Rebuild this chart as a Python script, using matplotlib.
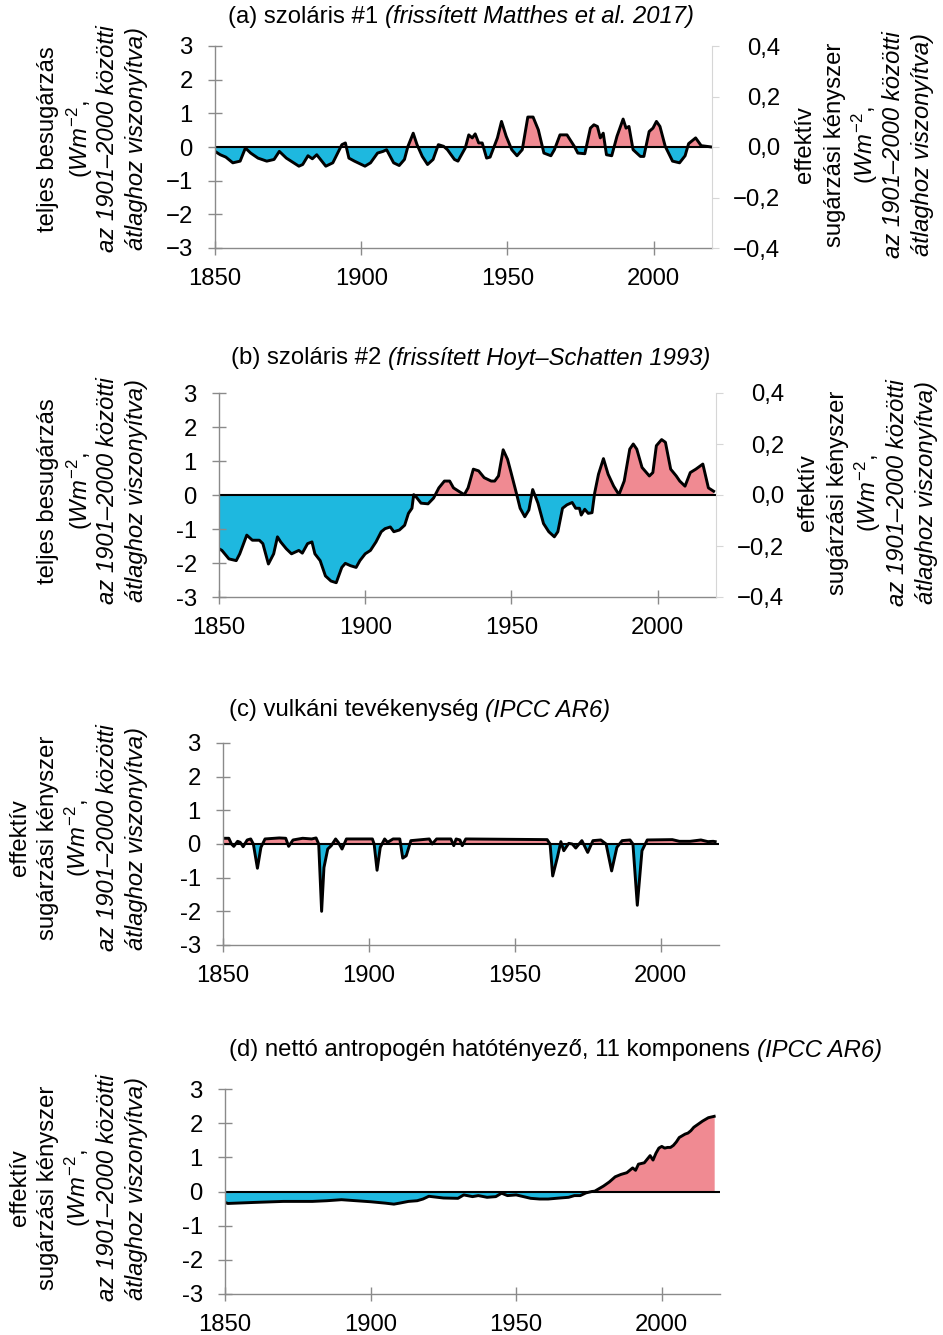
import numpy as np
import matplotlib
matplotlib.use("Agg")
from matplotlib import pyplot as plt

plt.rcParams['font.family'] = ['Liberation Sans', 'DejaVu Sans']
plt.rcParams['mathtext.fontset'] = 'custom'
plt.rcParams['mathtext.rm'] = 'Liberation Sans'
plt.rcParams['mathtext.it'] = 'Liberation Sans:italic'

# (a) solar #1 (updated Matthes et al. 2017), W m-2
sol1_years = [1850.0, 1851.8, 1853.7, 1856.1, 1858.6, 1860.4, 1862.2, 1864.7, 1867.7, 1870.2,
              1872.0, 1874.4, 1878.7, 1880.0, 1881.8, 1883.3, 1884.8, 1887.9, 1890.3, 1893.4,
              1894.6, 1895.8, 1897.7, 1901.3, 1903.2, 1905.6, 1907.5, 1908.7, 1911.1, 1913.0,
              1914.8, 1916.0, 1917.8, 1919.1, 1920.9, 1922.7, 1924.6, 1926.4, 1928.2, 1929.5,
              1931.9, 1933.1, 1935.6, 1936.8, 1938.0, 1939.0, 1940.2, 1941.4, 1942.9, 1944.1,
              1946.6, 1948.0, 1949.6, 1951.5, 1953.3, 1955.1, 1957.0, 1958.8, 1960.6, 1962.5,
              1964.9, 1966.1, 1968.0, 1970.4, 1972.9, 1974.1, 1976.5, 1978.4, 1979.6, 1980.8,
              1981.8, 1982.8, 1983.9, 1985.7, 1987.5, 1989.6, 1990.6, 1991.6, 1993.0, 1995.5,
              1996.7, 1998.5, 1999.8, 2001.0, 2002.2, 2004.0, 2006.5, 2008.9, 2010.8, 2012.0,
              2014.4, 2016.3, 2018.1, 2019.9]
sol1_values = [-0.13, -0.23, -0.30, -0.47, -0.42, -0.03, -0.18, -0.33, -0.42, -0.37,
               -0.13, -0.33, -0.57, -0.52, -0.26, -0.35, -0.23, -0.57, -0.47, 0.07,
               0.12, -0.33, -0.42, -0.57, -0.47, -0.18, -0.13, -0.08, -0.47, -0.55,
               -0.37, 0.02, 0.41, 0.07, -0.28, -0.52, -0.37, 0.07, 0.02, -0.08,
               -0.37, -0.42, -0.03, 0.36, 0.27, 0.39, 0.12, 0.12, -0.33, -0.30,
               0.27, 0.76, 0.32, -0.08, -0.26, -0.08, 0.89, 0.89, 0.51, -0.18,
               -0.26, -0.08, 0.36, 0.36, 0.02, -0.18, -0.20, 0.56, 0.66, 0.61,
               0.27, 0.41, -0.23, -0.26, 0.32, 0.83, 0.56, 0.61, -0.08, -0.28,
               -0.28, 0.46, 0.56, 0.76, 0.61, 0.02, -0.42, -0.47, -0.26, 0.10,
               0.27, 0.04, 0.02, 0.0]

# (b) solar #2 (updated Hoyt-Schatten 1993), W m-2
sol2_years = [1850.0, 1851.0, 1853.4, 1855.9, 1857.1, 1859.5, 1861.4, 1863.8, 1865.0, 1866.9,
              1868.7, 1870.0, 1871.1, 1873.0, 1874.8, 1877.3, 1878.5, 1880.3, 1881.8, 1882.8,
              1884.6, 1886.4, 1888.3, 1890.1, 1892.0, 1893.2, 1895.0, 1896.9, 1898.2, 1900.0,
              1901.8, 1903.7, 1905.5, 1906.8, 1908.6, 1909.8, 1911.7, 1913.5, 1914.8, 1916.0,
              1916.6, 1917.2, 1919.1, 1921.5, 1923.4, 1925.2, 1927.1, 1928.9, 1930.2, 1932.0,
              1933.9, 1935.2, 1937.0, 1938.8, 1940.7, 1943.1, 1944.3, 1945.6, 1947.2, 1948.7,
              1949.9, 1951.7, 1953.0, 1954.6, 1956.0, 1957.3, 1959.1, 1961.0, 1962.8, 1964.7,
              1965.9, 1967.5, 1969.0, 1970.8, 1972.0, 1973.3, 1973.9, 1975.1, 1976.3, 1977.6,
              1978.5, 1979.8, 1981.5, 1983.1, 1985.0, 1986.8, 1988.6, 1990.5, 1991.7, 1992.9,
              1994.7, 1997.2, 1998.4, 1999.6, 2001.4, 2002.7, 2004.5, 2006.4, 2007.6, 2009.4,
              2011.2, 2013.1, 2015.5, 2017.4, 2019.2]
sol2_values = [-1.58, -1.63, -1.88, -1.93, -1.73, -1.18, -1.33, -1.33, -1.43, -2.03,
               -1.73, -1.23, -1.38, -1.58, -1.73, -1.63, -1.71, -1.43, -1.38, -1.73,
               -1.93, -2.38, -2.53, -2.58, -2.13, -2.01, -2.08, -2.13, -1.93, -1.73,
               -1.63, -1.38, -1.08, -0.99, -0.94, -1.08, -1.03, -0.89, -0.54, -0.39,
               0.01, -0.03, -0.24, -0.26, -0.09, 0.21, 0.41, 0.41, 0.21, 0.11,
               0.01, 0.21, 0.76, 0.71, 0.51, 0.41, 0.41, 0.56, 1.33, 1.05,
               0.66, 0.06, -0.39, -0.64, -0.44, 0.16, -0.24, -0.84, -1.08, -1.23,
               -1.08, -0.39, -0.29, -0.22, -0.39, -0.39, -0.59, -0.42, -0.54, -0.52,
               0.06, 0.61, 1.07, 0.61, 0.26, 0.01, 0.41, 1.35, 1.50, 1.35,
               0.81, 0.56, 0.66, 1.45, 1.63, 1.55, 0.76, 0.56, 0.41, 0.26,
               0.66, 0.76, 0.91, 0.21, 0.11]

# (c) volcanic (IPCC AR6), W m-2
volc_years = [1850.0, 1852.0, 1852.9, 1853.7, 1855.0, 1855.9, 1856.9, 1858.3, 1859.5, 1860.4,
              1861.8, 1863.0, 1864.4, 1869.3, 1871.5, 1872.5, 1874.0, 1877.3, 1880.4, 1881.9,
              1882.8, 1883.8, 1884.6, 1885.9, 1887.1, 1888.6, 1889.5, 1890.8, 1892.3, 1901.2,
              1901.8, 1902.8, 1903.9, 1905.4, 1906.4, 1908.3, 1910.6, 1911.6, 1912.8, 1914.4,
              1920.7, 1921.7, 1923.2, 1928.1, 1929.1, 1929.9, 1931.2, 1932.0, 1933.2, 1961.1,
              1962.1, 1963.0, 1964.6, 1965.8, 1966.8, 1968.5, 1969.7, 1970.9, 1973.0, 1975.0,
              1976.8, 1979.5, 1981.3, 1983.2, 1985.0, 1986.8, 1989.5, 1990.5, 1992.0, 1993.6,
              1995.4, 2004.0, 2006.4, 2010.1, 2013.8, 2016.2, 2018.0, 2018.7]
volc_values = [0.17, 0.17, 0.0, -0.07, 0.08, 0.05, -0.08, 0.12, 0.15, 0.0,
               -0.72, -0.10, 0.15, 0.18, 0.17, -0.07, 0.12, 0.17, 0.15, 0.18,
               0.0, -2.0, -0.70, -0.15, -0.05, 0.15, 0.05, -0.15, 0.15, 0.15,
               0.0, -0.78, -0.10, 0.15, 0.05, 0.15, 0.15, -0.42, -0.35, 0.10,
               0.15, 0.0, 0.15, 0.15, -0.05, 0.15, 0.12, -0.05, 0.15, 0.13,
               0.0, -0.95, -0.40, 0.07, -0.20, 0.02, 0.0, -0.12, 0.10, -0.25,
               0.10, 0.12, 0.0, -0.80, -0.10, 0.10, 0.12, 0.0, -1.82, -0.20,
               0.12, 0.13, 0.08, 0.08, 0.12, 0.07, 0.08, 0.07]

# (d) net anthropogenic, 11 components (IPCC AR6), W m-2
anth_years = [1850, 1851, 1860, 1870, 1880, 1885, 1890, 1895, 1900, 1905,
              1908, 1910, 1913, 1916, 1918, 1920, 1925, 1930, 1932, 1935,
              1937, 1940, 1943, 1945, 1947, 1950, 1952, 1955, 1958, 1961,
              1965, 1968, 1970, 1972, 1974, 1976, 1977, 1978, 1980, 1982,
              1984, 1986, 1988, 1990, 1991, 1992, 1994, 1996, 1997, 1998,
              1999, 2000, 2001, 2002, 2003, 2004, 2005, 2006, 2008, 2009,
              2010, 2011, 2012, 2014, 2016, 2018]
anth_values = [-0.32, -0.35, -0.32, -0.29, -0.29, -0.27, -0.24, -0.27, -0.30, -0.34,
               -0.37, -0.34, -0.29, -0.27, -0.22, -0.14, -0.19, -0.20, -0.10, -0.15,
               -0.12, -0.17, -0.15, -0.05, -0.12, -0.10, -0.14, -0.20, -0.22, -0.22,
               -0.19, -0.17, -0.12, -0.12, -0.04, 0.0, 0.01, 0.06, 0.16, 0.28,
               0.43, 0.50, 0.55, 0.69, 0.62, 0.80, 0.84, 1.05, 0.92, 1.12,
               1.27, 1.32, 1.27, 1.29, 1.29, 1.35, 1.45, 1.58, 1.68, 1.71,
               1.78, 1.88, 1.94, 2.06, 2.16, 2.20]

x_ticks = [1850, 1900, 1950, 2000]
y_ticks = [-3, -2, -1, 0, 1, 2, 3]
y_labels_minus = ['\u22123', '\u22122', '\u22121', '0', '1', '2', '3']
y_labels_hyphen = ['-3', '-2', '-1', '0', '1', '2', '3']
right_ticks = [-0.4, -0.2, 0.0, 0.2, 0.4]
right_labels = ['\u22120,4', '\u22120,2', '0,0', '0,2', '0,4']

BLUE = '#1eb8df'
PINK = '#f08a92'
GRAY = '#8a8a8a'
LIGHT = '#d6d6d6'
FS = 17.2

W, H = 943, 1335
fig = plt.figure(figsize=(W / 100, H / 100), dpi=100)


def make_axes(left, right, top, bottom):
    ax = fig.add_axes([left / W, 1 - bottom / H, (right - left) / W, (bottom - top) / H])
    return ax


def draw_panel(ax, years, values, ylabels):
    years = np.array(years, dtype=float)
    values = np.array(values, dtype=float)
    ax.fill_between(years, values, 0, where=values >= 0, interpolate=True, color=PINK, lw=0)
    ax.fill_between(years, values, 0, where=values <= 0, interpolate=True, color=BLUE, lw=0)
    ax.plot(years, values, color='black', lw=2.1, solid_joinstyle='round')
    ax.axhline(0, color='black', lw=1.5)
    ax.set_xlim(1850, 2020)
    ax.set_ylim(-3, 3)
    ax.set_xticks(x_ticks)
    ax.set_yticks(y_ticks)
    ax.set_yticklabels(ylabels)
    for side in ['top', 'right']:
        ax.spines[side].set_visible(False)
    for side in ['left', 'bottom']:
        ax.spines[side].set_color(GRAY)
        ax.spines[side].set_linewidth(1.0)
    ax.tick_params(direction='inout', length=10, width=1, color=GRAY, labelsize=FS)
    ax.tick_params(axis='y', pad=11)
    ax.tick_params(axis='x', pad=9.5)


def add_right_axis(ax):
    tw = ax.twinx()
    tw.set_ylim(-0.4, 0.4)
    tw.set_yticks(right_ticks)
    tw.set_yticklabels(right_labels)
    for side in ['top', 'left', 'bottom']:
        tw.spines[side].set_visible(False)
    tw.spines['right'].set_color(LIGHT)
    tw.tick_params(axis='y', direction='out', length=5, color=LIGHT, labelsize=FS, pad=44)
    for lab in tw.get_yticklabels():
        lab.set_horizontalalignment('right')


def stacked_label(xs, yc, lines):
    for x, (txt, style) in zip(xs, lines):
        fig.text(x / W, 1 - yc / H, txt, rotation=90, ha='center', va='center',
                 fontsize=FS, style=style)


def panel_title(ax, x, y, plain, ital):
    t = fig.text(x / W, 1 - y / H, plain, ha='left', va='center', fontsize=FS)
    ax.annotate(ital, xy=(1, 0.5), xycoords=t, xytext=(0.278 * FS, 0),
                textcoords='offset points', ha='left', va='center',
                fontsize=FS, style='italic')


wm = r'$\mathit{(Wm}^{-2}\mathit{,}$'
left_solar = [('teljes besugárzás', 'normal'), (wm, 'normal'),
              ('az 1901–2000 közötti', 'italic'), ('átlaghoz viszonyítva)', 'italic')]
erf_lines = [('effektív', 'normal'), ('sugárzási kényszer', 'normal'), (wm, 'normal'),
             ('az 1901–2000 közötti', 'italic'), ('átlaghoz viszonyítva)', 'italic')]

# (a)
ax_a = make_axes(215, 712, 46, 248)
draw_panel(ax_a, sol1_years, sol1_values, y_labels_minus)
add_right_axis(ax_a)
panel_title(ax_a, 228, 17, '(a) szoláris #1', '(frissített Matthes et al. 2017)')
stacked_label([48, 80, 108, 137], 139, left_solar)
stacked_label([805, 835, 865, 893, 922], 145, erf_lines)

# (b)
ax_b = make_axes(219, 716, 393, 597)
draw_panel(ax_b, sol2_years, sol2_values, y_labels_hyphen)
add_right_axis(ax_b)
panel_title(ax_b, 231, 358, '(b) szoláris #2', '(frissített Hoyt–Schatten 1993)')
stacked_label([48, 80, 108, 137], 491, left_solar)
stacked_label([808, 838, 868, 897, 926], 493, erf_lines)

# (c)
ax_c = make_axes(223, 719, 743, 945)
draw_panel(ax_c, volc_years, volc_values, y_labels_hyphen)
panel_title(ax_c, 229, 710, '(c) vulkáni tevékenység', '(IPCC AR6)')
stacked_label([20, 48, 78, 107, 137], 838, erf_lines)

# (d)
ax_d = make_axes(225, 720, 1089, 1294)
draw_panel(ax_d, anth_years, anth_values, y_labels_hyphen)
panel_title(ax_d, 229, 1050, '(d) nettó antropogén hatótényező, 11 komponens', '(IPCC AR6)')
stacked_label([20, 48, 78, 107, 137], 1188, erf_lines)

fig.savefig('out.png', dpi=100)
